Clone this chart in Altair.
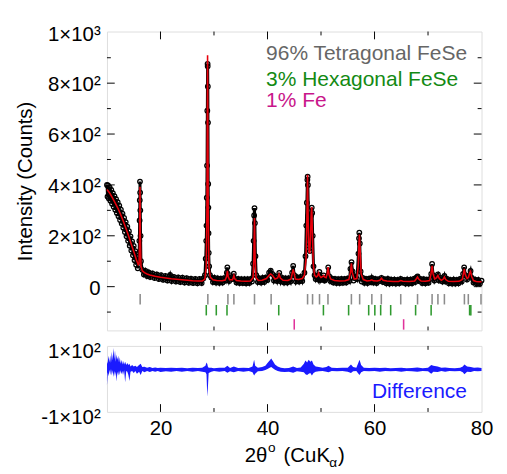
import altair as alt
import pandas as pd

FONT = "Liberation Sans"

# ---------------- observed intensities (black circles) ----------------
obs_x = [10.0, 10.1, 10.2, 10.35, 10.5, 10.65, 10.8, 10.95, 11.1, 11.25, 11.4, 11.55, 11.7, 11.85,
         12.0, 12.15, 12.3, 12.45, 12.6, 12.75, 12.9, 13.05, 13.2, 13.35, 13.5, 13.65, 13.8, 13.95,
         14.1, 14.25, 14.4, 14.55, 14.7, 14.85, 15.0, 15.15, 15.3, 15.45, 15.6, 15.75, 15.9,
         16.0, 16.05, 16.1, 16.13, 16.17, 16.2, 16.23, 16.28, 16.35, 16.6,
         16.9, 17.2, 17.5, 17.8, 18.1, 18.5, 18.9, 19.3, 19.7, 20.1, 20.5, 20.9, 21.3, 21.7, 21.8,
         22.1, 22.5, 22.9, 23.3, 23.7, 24.1, 24.5, 24.9, 25.3, 25.7, 26.1, 26.5, 26.9, 27.3, 27.7, 28.0,
         28.3, 28.45, 28.55, 28.6, 28.65, 28.7, 28.75, 28.8, 28.82, 28.85, 28.88, 28.92, 28.95, 28.98,
         29.02, 29.1, 29.25, 29.5, 29.8, 30.1, 30.4, 30.7, 31.0, 31.3, 31.6, 31.9, 32.15,
         32.4, 32.5, 32.6, 32.85, 33.1, 33.4, 33.7, 33.9, 34.2, 34.5, 34.8, 35.1, 35.4, 35.7,
         36.0, 36.3, 36.6, 36.9, 37.1,
         37.3, 37.4, 37.5, 37.57, 37.65, 37.75, 37.9, 38.2, 38.5, 38.8, 39.1, 39.4, 39.7, 40.0,
         40.3, 40.6, 40.9, 41.2, 41.5, 41.8, 42.2, 42.5, 42.8, 43.1, 43.4, 43.7, 44.0, 44.3,
         44.6, 44.8, 45.0, 45.3, 45.6, 45.9, 46.2, 46.5, 46.9,
         47.1, 47.25, 47.35, 47.45, 47.5, 47.55, 47.65, 47.75, 47.9, 48.05, 48.15, 48.27, 48.35,
         48.45, 48.6, 48.8, 49.0, 49.2, 49.45, 49.7, 49.9, 50.1, 50.3, 50.5, 50.7, 50.9, 51.1,
         51.35, 51.55, 51.75, 52.0, 52.3, 52.6, 52.9, 53.2, 53.5, 53.8, 54.1, 54.4, 54.7, 55.0,
         55.3, 55.5, 55.7, 55.9, 56.1, 56.4, 56.7, 57.0, 57.1, 57.16, 57.25, 57.4, 57.6, 57.8,
         58.1, 58.4, 58.7, 59.0, 59.3, 59.5, 59.8, 60.1, 60.4, 60.7, 61.0, 61.3, 61.6, 61.9,
         62.2, 62.5, 62.8, 63.1, 63.4, 63.7, 64.0, 64.3, 64.6, 64.9, 65.2, 65.5, 65.8, 66.1,
         66.4, 66.7, 67.0, 67.3, 67.6, 67.85, 68.05, 68.3, 68.6, 68.9, 69.2, 69.5, 69.8, 70.1,
         70.4, 70.6, 70.76, 70.95, 71.2, 71.5, 71.85, 72.1, 72.4, 72.7, 73.06, 73.3, 73.6, 73.9,
         74.2, 74.5, 74.8, 75.1, 75.4, 75.7, 76.0, 76.3, 76.55, 76.75, 77.0, 77.3, 77.6, 77.95,
         78.2, 78.5, 78.8, 79.1, 79.4, 79.7, 80.0]
obs_y = [400, 354, 398, 347, 390, 338, 380, 326, 368, 314, 356, 302, 344, 290,
         332, 277, 318, 262, 303, 248, 287, 232, 270, 215, 254, 198, 236, 180,
         218, 161, 198, 142, 178, 123, 160, 104, 140, 86, 118, 72, 100,
         120, 180, 260, 340, 413, 370, 300, 200, 100, 66,
         48, 62, 42, 56, 38, 52, 34, 48, 30, 45, 27, 42, 24, 40, 46,
         22, 38, 20, 36, 18, 35, 16, 33, 15, 31, 14, 30, 13, 30, 14, 32,
         45, 110, 180, 240, 350, 476, 692, 876, 867, 787, 645, 404, 311, 210,
         133, 80, 45, 36, 18, 34, 16, 32, 15, 31, 16, 33, 24,
         55, 76, 50, 22, 34, 30, 51, 30, 16, 30, 14, 29, 14, 29,
         13, 29, 14, 30, 20,
         90, 180, 280, 309, 250, 120, 45, 18, 32, 16, 34, 18, 36, 26,
         55, 63, 50, 24, 40, 22, 54, 20, 34, 16, 32, 16, 33, 20,
         55, 82, 45, 20, 36, 20, 38, 22, 55,
         120, 240, 330, 420, 432, 400, 280, 160, 140, 200, 280, 311, 290,
         200, 80, 45, 30, 40, 28, 58, 26, 35, 28, 44, 24, 30, 36,
         76, 40, 22, 32, 16, 30, 14, 29, 14, 30, 15, 30, 16, 32,
         22, 70, 96, 60, 24, 40, 30, 130, 190, 212, 170, 60, 20, 34,
         15, 30, 14, 31, 18, 34, 16, 30, 14, 29, 22, 34, 18, 29,
         13, 30, 12, 28, 13, 28, 12, 27, 13, 30, 16, 27, 12, 28,
         12, 28, 13, 30, 18, 36, 40, 22, 30, 14, 29, 13, 28, 15,
         30, 50, 89, 45, 24, 38, 48, 24, 34, 20, 42, 20, 30, 13,
         27, 12, 28, 12, 27, 13, 30, 20, 50, 76, 45, 28, 40, 62,
         34, 16, 28, 12, 27, 12, 24]

# ---------------- calculated profile (red line) ----------------
calc_x = [10.0, 10.5, 11.0, 11.5, 12.0, 12.5, 13.0, 13.5, 14.0, 14.5, 15.0, 15.5, 15.85,
          16.0, 16.1, 16.17, 16.24, 16.35, 16.6, 17.0, 17.5, 18.0, 19.0, 20.0, 21.0, 22.0,
          23.0, 24.0, 25.0, 26.0, 27.0, 27.8, 28.3, 28.55, 28.68, 28.8, 28.92, 29.05, 29.3,
          29.8, 30.5, 31.5, 32.1, 32.35, 32.5, 32.65, 32.9, 33.45, 33.6, 33.72, 33.85, 34.2,
          35.0, 36.0, 36.8, 37.3, 37.45, 37.57, 37.69, 37.85, 38.3, 39.0, 39.8, 40.3, 40.6,
          40.9, 41.4, 41.9, 42.15, 42.4, 42.9, 43.8, 44.4, 44.65, 44.8, 44.95, 45.2, 45.8,
          46.5, 46.9, 47.2, 47.35, 47.48, 47.61, 47.75, 47.9, 48.05, 48.17, 48.27, 48.37,
          48.55, 48.8, 49.1, 49.35, 49.55, 49.75, 50.0, 50.35, 50.5, 50.65, 50.95, 51.15,
          51.32, 51.5, 51.8, 52.5, 53.5, 54.5, 55.2, 55.5, 55.68, 55.85, 56.2, 56.7, 56.95,
          57.08, 57.18, 57.3, 57.5, 57.9, 58.6, 59.2, 59.5, 59.8, 60.5, 61.0, 61.3, 61.6,
          62.3, 63.5, 64.5, 64.9, 65.3, 66.5, 67.5, 67.85, 68.04, 68.25, 68.7, 69.5, 70.3,
          70.55, 70.76, 70.95, 71.25, 71.6, 71.85, 72.1, 72.5, 72.85, 73.06, 73.3, 73.8,
          74.8, 75.8, 76.4, 76.6, 76.78, 76.95, 77.3, 77.55, 77.8, 77.95, 78.15, 78.5, 79.0,
          79.5, 80.0]
calc_y = [382, 368, 350, 330, 310, 286, 260, 232, 202, 170, 138, 106, 86,
          90, 200, 393, 200, 80, 62, 55, 50, 46, 41, 37, 34, 31,
          29, 27, 25, 23, 22, 22, 30, 80, 300, 910, 300, 80, 38,
          27, 24, 23, 26, 40, 62, 40, 27, 27, 36, 44, 32, 24,
          22, 21, 22, 35, 110, 270, 110, 35, 24, 25, 32, 45, 50,
          45, 30, 34, 50, 34, 25, 24, 30, 55, 68, 55, 30, 28,
          32, 45, 110, 250, 440, 250, 140, 130, 200, 290, 313, 230,
          90, 45, 38, 42, 54, 42, 36, 40, 44, 38, 35, 50,
          77, 48, 30, 24, 22, 23, 28, 55, 92, 55, 30, 32, 80,
          170, 205, 150, 50, 28, 22, 24, 27, 23, 22, 25, 33, 25,
          22, 20, 20, 24, 21, 20, 22, 32, 38, 30, 22, 21, 24,
          50, 82, 50, 30, 35, 44, 32, 25, 30, 38, 28, 21,
          20, 21, 28, 50, 70, 48, 32, 36, 55, 60, 40, 24, 20,
          19, 19]

# ---------------- reflection markers ----------------
tet_pos = [16.2, 28.85, 32.6, 33.72, 37.57, 40.68, 47.49, 48.42, 49.72, 51.3, 55.68, 57.22,
           59.5, 61.27, 64.9, 68.04, 70.76, 71.85, 73.06, 76.8, 77.53, 79.9]
hex_pos = [28.56, 30.43, 32.43, 42.1, 50.45, 55.16, 58.91, 60.06, 61.15, 63.02, 67.68,
           70.58, 77.77, 78.0]
fe_pos = [45.0, 65.44]

# ---------------- difference curve (envelope of the noisy trace) ----------------
diff_x = [10.0, 10.15, 10.3, 10.45, 10.6, 10.75, 10.9, 11.05, 11.2, 11.35, 11.5, 11.65, 11.8,
          11.95, 12.1, 12.25, 12.4, 12.55, 12.7, 12.85, 13.0, 13.2, 13.4, 13.6, 13.8, 14.0,
          14.2, 14.4, 14.7, 15.0, 15.3, 15.6, 16.0, 16.3, 16.6, 17.0, 17.5, 18.0, 18.5, 19.0,
          19.5, 20.0, 21.0, 22.0, 23.0, 24.0, 25.0, 26.0, 27.0, 27.8, 28.4, 28.6, 28.75, 28.85,
          29.0, 29.5, 30.0, 31.0, 32.0, 32.5, 33.0, 33.7, 34.5, 35.5, 36.5, 37.2, 37.5, 37.7,
          38.2, 39.0, 39.6, 40.0, 40.4, 40.7, 41.0, 41.4, 41.9, 42.5, 43.2, 44.0, 44.8, 45.5,
          46.2, 46.8, 47.1, 47.4, 47.7, 48.0, 48.3, 48.6, 49.0, 49.6, 50.3, 51.0, 51.4, 52.0,
          53.0, 54.0, 55.0, 55.6, 56.0, 56.6, 57.0, 57.2, 57.5, 58.0, 59.0, 60.0, 61.0, 62.0,
          63.0, 64.0, 65.0, 66.0, 67.0, 68.0, 69.0, 70.0, 70.6, 71.0, 71.8, 72.5, 73.2, 74.0,
          75.0, 76.0, 76.5, 76.8, 77.3, 78.0, 78.6, 79.3, 80.0]
diff_lo = [-20, 20, 8, 28, 12, 30, 10, 26, 6, 24, 8, 22, -8, 22, 10, 25, 12, 26, 14,
           24, 12, 26, -10, 24, 22, 12, -6, 22, 24, 18, 24, 16, 22, 12, 24, 20, 24, 21,
           24, 22, 24, 21, 23, 22, 24, 22, 24, 22, 24, 22, 20, 14, -54, -30, 18, 22, 24,
           22, 24, 19, 23, 20, 24, 22, 24, 20, 10, 16, 23, 24, 27, 30, 34, 36, 32, 28, 24,
           22, 21, 22, 19, 23, 22, 20, 14, 12, 16, 18, 10, 18, 22, 23, 24, 22, 20, 24,
           23, 24, 22, 18, 23, 24, 16, 12, 20, 24, 23, 24, 22, 24, 23, 24, 22, 24, 23,
           22, 24, 23, 16, 22, 21, 24, 22, 24, 23, 24, 20, 14, 22, 21, 24, 23, 24]
diff_hi = [45, 52, 70, 50, 72, 48, 82, 56, 94, 60, 86, 52, 74, 58, 70, 50, 66, 46, 58,
           44, 55, 44, 52, 42, 48, 42, 46, 38, 42, 38, 40, 36, 42, 46, 36, 37, 34, 36,
           33, 35, 33, 34, 33, 34, 33, 34, 32, 34, 33, 34, 40, 50, 45, 38, 34, 34, 32,
           34, 34, 40, 33, 38, 33, 34, 33, 38, 58, 40, 34, 36, 40, 48, 56, 62, 54, 44,
           38, 34, 32, 33, 38, 33, 35, 46, 56, 50, 58, 52, 56, 44, 38, 36, 34, 36, 40,
           34, 33, 34, 34, 44, 36, 34, 50, 58, 42, 34, 33, 34, 33, 34, 32, 33, 34, 32,
           33, 35, 32, 34, 42, 40, 38, 34, 35, 33, 32, 34, 38, 44, 38, 36, 34, 35, 33]

# ---------------- frame tick positions ----------------
x_major = [20, 40, 60]
x_minor = [30, 50, 70]
y_major_top = [0, 200, 400, 600, 800]
y_minor_top = [-100, 100, 300, 500, 700, 900]

W, H1, H2 = 386, 308, 68
TL, ML = 8, 4   # tick lengths (px)

obs_df = pd.DataFrame({"x": obs_x, "y": obs_y})
calc_df = pd.DataFrame({"x": calc_x, "y": calc_y})
diff_df = pd.DataFrame({"x": diff_x, "lo": diff_lo, "hi": diff_hi})

xscale = alt.Scale(domain=[10, 80], nice=False, zero=False)
ytop_scale = alt.Scale(domain=[-172, 1003], nice=False, zero=False)
ybot_scale = alt.Scale(domain=[-100, 100], nice=False, zero=False)

X_top = alt.X("x:Q", scale=xscale, axis=None)
Y_top = alt.Y(
    "y:Q", scale=ytop_scale,
    axis=alt.Axis(values=[0, 200, 400, 600, 800, 1000],
                  labelExpr="datum.value == 0 ? '0' : (datum.value == 1000 ? '1×10³' : (datum.value/100) + '×10²')",
                  ticks=False, domain=False, grid=False, labelFlush=False,
                  labelFontSize=21, labelFont=FONT, labelColor="black", labelPadding=7,
                  labelOffset=2,
                  title="Intensity (Counts)", titleFontSize=21, titleFont=FONT,
                  titleFontWeight="normal", titleColor="black", titlePadding=12))

obs_line = alt.Chart(obs_df).mark_line(color="black", strokeWidth=3).encode(x=X_top, y=Y_top)
obs_pts = alt.Chart(obs_df).mark_point(shape="circle", filled=False, size=22, strokeWidth=1.3,
                                       color="black", opacity=1).encode(x=X_top, y=Y_top)
calc_line = alt.Chart(calc_df).mark_line(color="#e8000b", strokeWidth=1.6).encode(x=X_top, y=Y_top)


def refl(pos, color, y1, y2):
    return alt.Chart(pd.DataFrame({"x": pos})).mark_rule(color=color, strokeWidth=1.6).encode(
        x=X_top, y=alt.datum(y1, scale=ytop_scale), y2=alt.datum(y2))


tet_r = refl(tet_pos, "#8c8c8c", -29, -70)
hex_r = refl(hex_pos, "#2f9a2f", -72, -113)
fe_r = refl(fe_pos, "#e0339b", -128, -169)


def xticks(vals, xenc, h, length):
    d = pd.DataFrame({"x": vals})
    b = alt.Chart(d).mark_rule(color="black", strokeWidth=1).encode(
        x=xenc, y=alt.value(h), y2=alt.value(h - length))
    t = alt.Chart(d).mark_rule(color="black", strokeWidth=1).encode(
        x=xenc, y=alt.value(0), y2=alt.value(length))
    return b + t


def yticks(vals, yenc, length):
    d = pd.DataFrame({"y": vals})
    l = alt.Chart(d).mark_rule(color="black", strokeWidth=1).encode(
        y=yenc, x=alt.value(0), x2=alt.value(length))
    r = alt.Chart(d).mark_rule(color="black", strokeWidth=1).encode(
        y=yenc, x=alt.value(W), x2=alt.value(W - length))
    return l + r


def label(txt, color, x, y, size=21):
    return alt.Chart(pd.DataFrame({"a": [0]})).mark_text(
        text=txt, color=color, font=FONT, fontSize=size, align="left", baseline="alphabetic"
    ).encode(x=alt.value(x), y=alt.value(y))


top = alt.layer(
    obs_line, obs_pts, calc_line, tet_r, hex_r, fe_r,
    xticks(x_major, X_top, H1, TL), xticks(x_minor, X_top, H1, ML),
    yticks(y_major_top, Y_top, TL), yticks(y_minor_top, Y_top, ML),
    label("96% Tetragonal FeSe", "#666666", 164, 29, 21.6),
    label("3% Hexagonal FeSe", "#138a13", 164, 56, 21.6),
    label("1% Fe", "#c8168a", 164, 78, 21.6),
).properties(width=W, height=H1)

# ---------------- bottom panel ----------------
X_bot = alt.X("x:Q", scale=xscale,
              axis=alt.Axis(values=[20, 40, 60, 80], ticks=False, domain=False, grid=False,
                            labelFlush=False, labelFontSize=21, labelFont=FONT,
                            labelColor="black", labelPadding=6, title=None))
Y_bot = alt.Y("lo:Q", scale=ybot_scale,
              axis=alt.Axis(values=[-100, 100],
                            labelExpr="datum.value > 0 ? '1×10²' : '-1×10²'",
                            ticks=False, domain=False, grid=False, labelFlush=False,
                            labelFontSize=21, labelFont=FONT, labelColor="black",
                            labelPadding=7, labelOffset=6, title=None))

diff_area = alt.Chart(diff_df).mark_area(color="#1a1aff", opacity=1, line=False).encode(
    x=X_bot, y=Y_bot, y2="hi:Q")

bottom = alt.layer(
    diff_area,
    xticks(x_major, X_bot, H2, TL), xticks(x_minor, X_bot, H2, ML),
    label("Difference", "#1a1aff", 273, 54, 21.6),
    label("2θ", "black", 142, 120),
    label("o", "black", 166, 109, 14),
    label("(CuK", "black", 182, 120),
    label("α", "black", 229, 125, 14),
    label(")", "black", 238, 120),
).properties(width=W, height=H2)

chart = alt.vconcat(top, bottom, spacing=9).configure_view(
    stroke="black", strokeWidth=1
).configure(background="white").properties(
    padding={"left": 7, "top": 8, "right": 5, "bottom": 5})

chart.save("out.html", embed_options={"renderer": "svg", "actions": False})
